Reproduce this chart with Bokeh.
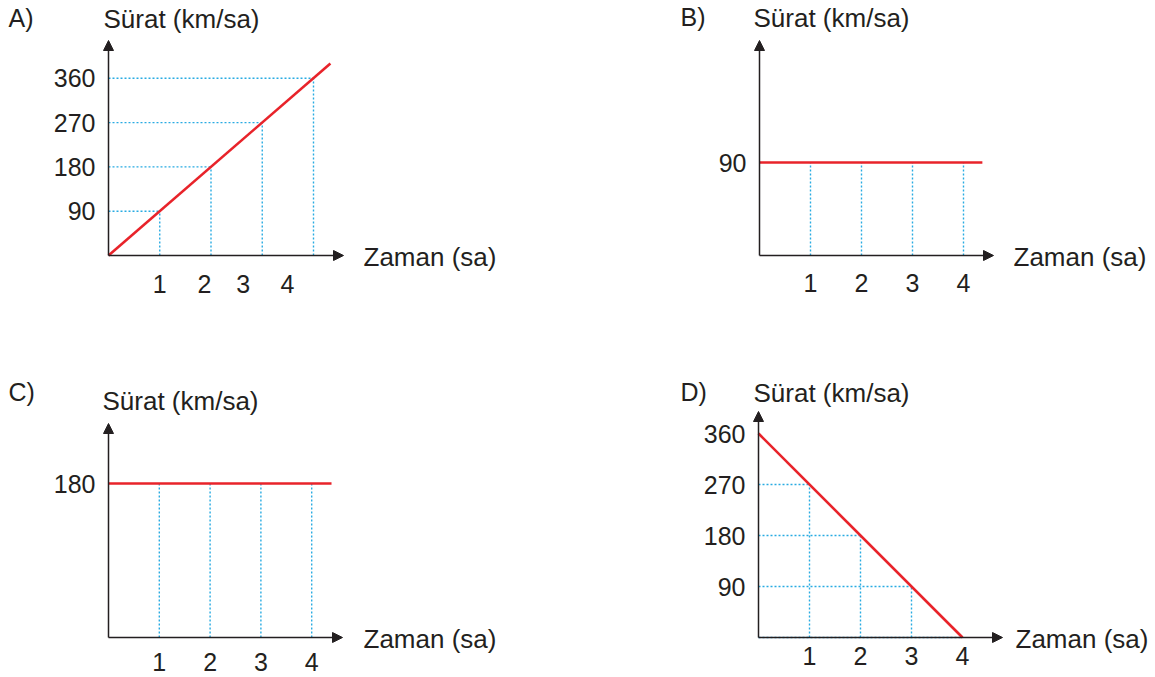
from bokeh.plotting import figure
from bokeh.models import Range1d, Arrow, NormalHead
from bokeh.core.properties import value
from bokeh.embed import file_html
from bokeh.resources import INLINE

# ---------------- data ----------------
tick_times = [1, 2, 3, 4]
tick_labels = ["1", "2", "3", "4"]
y_title = "Sürat (km/sa)"
x_title = "Zaman (sa)"

# A) speed increases steadily
a_line_time = [0, 4.33]
a_line_speed = [0, 390]
a_speed_at_ticks = [90, 180, 270, 360]
a_y_ticks = [90, 180, 270, 360]
a_x_label_pos = [1.0, 1.87, 2.63, 3.49]   # labels as printed (slightly shifted)

# B) constant 90 km/sa
b_line_time = [0, 4.37]
b_line_speed = [90, 90]
b_speed_at_ticks = [90, 90, 90, 90]
b_y_ticks = [90]
b_x_label_pos = [1, 2, 3, 4]

# C) constant 180 km/sa
c_line_time = [0, 4.39]
c_line_speed = [180, 180]
c_speed_at_ticks = [180, 180, 180, 180]
c_y_ticks = [180]
c_x_label_pos = [1, 2, 3, 4]

# D) speed decreases steadily
d_line_time = [0, 4]
d_line_speed = [360, 0]
d_speed_at_ticks = [270, 180, 90, 0]
d_y_ticks = [90, 180, 270, 360]
d_x_label_pos = [1, 2, 3, 4]

# ---------------- styling / layout ----------------
W, H = 1155, 677
PAGE = 0
RED = "#e8232a"
BLUE = "#29abe2"
INK = "#231f20"
FONT = value("Liberation Sans")

panels = [
    dict(key="A", letter="A)", t=a_line_time, v=a_line_speed, at=a_speed_at_ticks,
         yt=a_y_ticks, xl=a_x_label_pos, hguide=True,
         ox=108, oy=255, sx=51.25, sy=44.3 / 90, xlen=235, ylen=215,
         xlab_dy=28, ytitle=(-5, -237), letter_off=(-100, -238), xtitle=(255, 1)),
    dict(key="B", letter="B)", t=b_line_time, v=b_line_speed, at=b_speed_at_ticks,
         yt=b_y_ticks, xl=b_x_label_pos, hguide=False,
         ox=759, oy=255, sx=51.0, sy=93 / 90, xlen=234, ylen=215,
         xlab_dy=27, ytitle=(-6, -238), letter_off=(-79, -239), xtitle=(254, 1)),
    dict(key="C", letter="C)", t=c_line_time, v=c_line_speed, at=c_speed_at_ticks,
         yt=c_y_ticks, xl=c_x_label_pos, hguide=False,
         ox=108, oy=637, sx=50.8, sy=154 / 180, xlen=234, ylen=214,
         xlab_dy=24, ytitle=(-6, -237), letter_off=(-100, -246), xtitle=(255, 1)),
    dict(key="D", letter="D)", t=d_line_time, v=d_line_speed, at=d_speed_at_ticks,
         yt=d_y_ticks, xl=d_x_label_pos, hguide=True,
         ox=758, oy=637, sx=51.0, sy=51 / 90, xlen=244, ylen=226,
         xlab_dy=18, ytitle=(-5, -245), letter_off=(-78, -246), xtitle=(257, 1)),
]

p = figure(width=W, height=H, output_backend="svg", toolbar_location=None,
           x_axis_location=None, y_axis_location=None, min_border=0,
           x_range=Range1d(0, 1), y_range=Range1d(0, 1))
p.outline_line_color = None
p.background_fill_color = "white"
p.border_fill_color = "white"
p.xgrid.visible = False
p.ygrid.visible = False

txt = dict(text_font=FONT, text_color=INK)

for pn in panels:
    k = pn["key"]
    ox, oy, sx, sy = pn["ox"], pn["oy"], pn["sx"], pn["sy"]
    p.extra_x_ranges[k] = Range1d((PAGE - ox) / sx, (PAGE + W - ox) / sx)
    p.extra_y_ranges[k] = Range1d((oy - (PAGE + H)) / sy, (oy - PAGE) / sy)
    rn = dict(x_range_name=k, y_range_name=k)
    n = len(tick_times)

    # dotted guide lines
    p.segment(x0=tick_times, y0=[0] * n, x1=tick_times, y1=pn["at"],
              line_color=BLUE, line_width=1.4, line_dash="2 2", **rn)
    if pn["hguide"]:
        p.segment(x0=[0] * n, y0=pn["at"], x1=tick_times, y1=pn["at"],
                  line_color=BLUE, line_width=1.4, line_dash="2 2", **rn)

    # axes with arrow heads
    xtip = pn["xlen"] / sx
    ytip = pn["ylen"] / sy
    for (xe, ye) in [(xtip, 0), (0, ytip)]:
        p.add_layout(Arrow(x_start=0, y_start=0, x_end=xe, y_end=ye,
                           line_color=INK, line_width=1.5,
                           end=NormalHead(size=10, fill_color=INK, line_color=INK, line_width=1),
                           **rn))

    # red speed line
    p.line(pn["t"], pn["v"], line_color=RED, line_width=2.6, **rn)

    # y tick labels
    m = len(pn["yt"])
    p.text(x=[0] * m, y=pn["yt"], text=[str(v) for v in pn["yt"]], x_offset=-13,
           text_align="right", text_baseline="middle", text_font_size="25px", **txt, **rn)
    # x tick labels
    p.text(x=pn["xl"], y=[0] * n, text=tick_labels, y_offset=pn["xlab_dy"],
           text_align="center", text_baseline="middle", text_font_size="25px", **txt, **rn)
    # titles
    p.text(x=[0], y=[0], text=[y_title], x_offset=pn["ytitle"][0], y_offset=pn["ytitle"][1],
           text_align="left", text_baseline="middle", text_font_size="26px", **txt, **rn)
    p.text(x=[0], y=[0], text=[x_title], x_offset=pn["xtitle"][0], y_offset=pn["xtitle"][1],
           text_align="left", text_baseline="middle", text_font_size="26px", **txt, **rn)
    p.text(x=[0], y=[0], text=[pn["letter"]], x_offset=pn["letter_off"][0], y_offset=pn["letter_off"][1],
           text_align="left", text_baseline="middle", text_font_size="25px", **txt, **rn)

open("out.html", "w").write(file_html(p, INLINE))
